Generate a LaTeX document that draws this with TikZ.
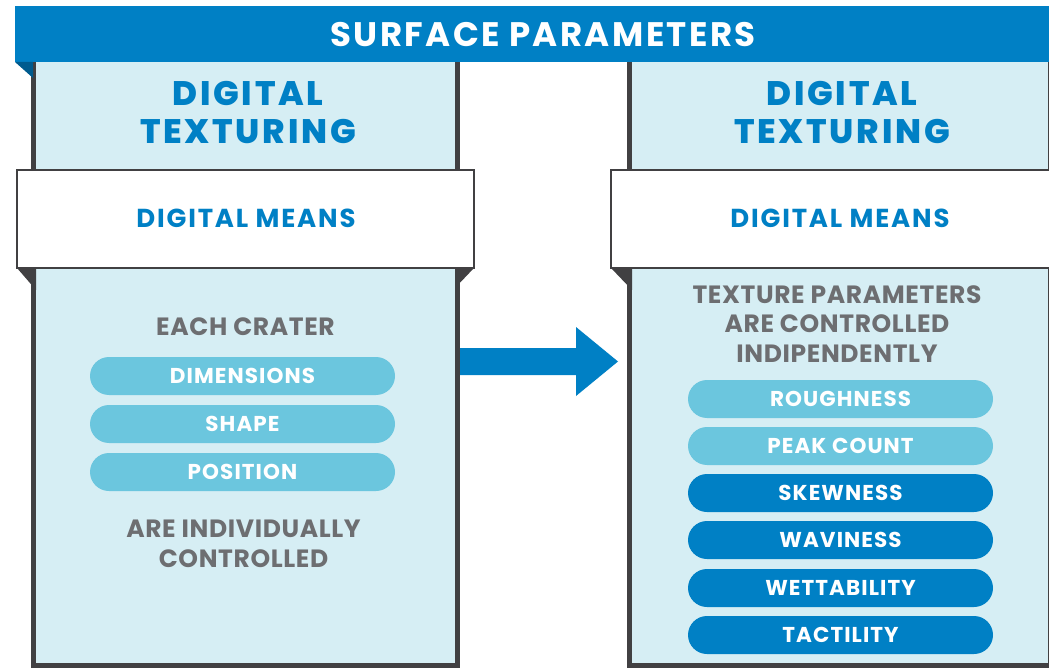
\documentclass[tikz,border=0pt]{standalone}
\usepackage{fontspec}
\setmainfont{Poppins}
\IfFontExistsTF{Poppins ExtraBold}
    {\newfontfamily\heavyfont{Poppins ExtraBold}\def\heavyspace{8}}
    {\newfontfamily\heavyfont{Poppins}[UprightFont=* Bold]\def\heavyspace{10}}
\definecolor{brandblue}{HTML}{0080C5}
\definecolor{foldblue}{HTML}{005B8E}
\definecolor{panelfill}{HTML}{D6EEF4}
\definecolor{pilllight}{HTML}{6BC6DE}
\definecolor{framegray}{HTML}{414042}
\definecolor{textgray}{HTML}{6D6E71}
\begin{document}
\begin{tikzpicture}[
        x=1pt, y=-1pt,
        panel/.style={fill=panelfill, draw=framegray, line width=5pt},
        meansbox/.style={fill=white, draw=framegray, line width=2pt},
        fold/.style={fill=framegray},
        title/.style={text=white, inner sep=0pt,
            font=\fontsize{34}{34}\selectfont\bfseries\addfontfeatures{LetterSpace=7}},
        heading/.style={text=brandblue, inner sep=0pt, align=center,
            font=\fontsize{34}{38}\selectfont\heavyfont\addfontfeatures{LetterSpace=\heavyspace}},
        means/.style={text=brandblue, inner sep=0pt,
            font=\fontsize{26}{26}\selectfont\bfseries\addfontfeatures{LetterSpace=7}},
        note/.style={text=textgray, inner sep=0pt, align=center,
            font=\fontsize{25}{29.5}\selectfont\bfseries\addfontfeatures{LetterSpace=2.5}},
        pill/.style={rounded corners=19pt, minimum width=305pt, minimum height=38pt, inner sep=0pt,
            text=white, font=\fontsize{21.5}{21.5}\selectfont\bfseries\addfontfeatures{LetterSpace=5}},
        softpill/.style={pill, fill=pilllight},
        deeppill/.style={pill, fill=brandblue}
    ]
        \useasboundingbox (0,0) rectangle (1049,668);
        \clip (0,0) rectangle (1049,668);
        % panels
        \draw[panel] (33.5,40) rectangle (457.5,665.5);
        \draw[panel] (629.5,40) rectangle (1050.5,665.5);
        % banner
        \fill[brandblue] (15,6) rectangle (1055,62);
        \fill[foldblue] (15,62) -- (33,62) -- (33,78) -- cycle;
        \node[title] (banner) at (543,35) {SURFACE PARAMETERS};
        % headings
        \node[heading] (lhead) at (248,113) {DIGITAL\\TEXTURING};
        \node[heading] (rhead) at (842,113) {DIGITAL\\TEXTURING};
        % white boxes
        \draw[meansbox] (17,170) rectangle (474,268);
        \draw[meansbox] (611,170) rectangle (1055,268);
        \fill[fold] (17,268) -- (36,268) -- (36,290) -- cycle;
        \fill[fold] (455,268) -- (474,268) -- (455,288) -- cycle;
        \fill[fold] (611,268) -- (632,268) -- (632,290) -- cycle;
        \node[means] (lmeans) at (246,218) {DIGITAL MEANS};
        \node[means] (rmeans) at (840,218) {DIGITAL MEANS};
        % left panel
        \node[note] (crater) at (245.5,327) {EACH CRATER};
        \node[softpill] (dims) at (242.5,376) {DIMENSIONS};
        \node[softpill] (shape) at (242.5,424) {SHAPE};
        \node[softpill] (pos) at (242.5,472) {POSITION};
        \node[note] (indiv) at (243.5,544) {ARE INDIVIDUALLY\\CONTROLLED};
        % right panel
        \node[note] (params) at (837,324) {TEXTURE PARAMETERS\\ARE CONTROLLED\\INDIPENDENTLY};
        \node[softpill] (rough) at (840.5,399) {ROUGHNESS};
        \node[softpill] (peak) at (840.5,446) {PEAK COUNT};
        \node[deeppill] (skew) at (840.5,493) {SKEWNESS};
        \node[deeppill] (wavy) at (840.5,540) {WAVINESS};
        \node[deeppill] (wet) at (840.5,588) {WETTABILITY};
        \node[deeppill] (tact) at (840.5,635) {TACTILITY};
        % block arrow
        \coordinate (tail) at (460,361.5);
        \coordinate (tip) at (618,361.5);
        \fill[brandblue] (tail) ++(0,-13.5) -- ++(116,0) -- ++(0,-21) -- (tip)
            -- ++(-42,34.5) -- ++(0,-21) -- ++(-116,0) -- cycle;
    \end{tikzpicture}
\end{document}
